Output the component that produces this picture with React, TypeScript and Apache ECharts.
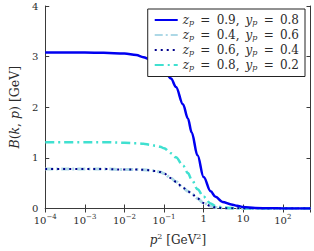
import React, { useEffect, useRef } from "react";
import * as echarts from "echarts";

// p^2 sample points [GeV^2]
const pSq = [1e-4, 1e-3, 3e-3, 1e-2, 0.02, 0.03, 0.045, 0.06, 0.08, 0.1, 0.15, 0.2, 0.3, 0.4, 0.5, 0.7, 1, 1.5, 2, 3, 5, 7, 10, 20, 50, 100, 200, 500];

// B(k,p) [GeV] per parameter set
const bZ09Y08 = [3.08, 3.08, 3.075, 3.06, 3.03, 2.99, 2.94, 2.89, 2.82, 2.74, 2.57, 2.4, 2.06, 1.78, 1.5, 1.05, 0.62, 0.34, 0.23, 0.13, 0.08, 0.055, 0.03, 0.01, 0.004, 0.002, 0.002, 0.002];
const bZ04Y06 = [0.78, 0.78, 0.78, 0.77, 0.77, 0.765, 0.755, 0.74, 0.72, 0.69, 0.6, 0.53, 0.41, 0.34, 0.29, 0.2, 0.11, 0.05, 0.02, 0.008, 0.004, 0.003, 0.002, 0.002, 0.002, 0.002, 0.002, 0.002];
const bZ06Y04 = [0.78, 0.78, 0.78, 0.77, 0.77, 0.765, 0.755, 0.74, 0.72, 0.69, 0.6, 0.53, 0.41, 0.34, 0.29, 0.2, 0.11, 0.05, 0.02, 0.008, 0.004, 0.003, 0.002, 0.002, 0.002, 0.002, 0.002, 0.002];
const bZ08Y02 = [1.31, 1.31, 1.31, 1.3, 1.29, 1.28, 1.26, 1.24, 1.22, 1.19, 1.09, 1.01, 0.85, 0.7, 0.57, 0.38, 0.23, 0.1, 0.05, 0.02, 0.008, 0.004, 0.002, 0.002, 0.002, 0.002, 0.002, 0.002];

const seriesNames = [
  "{i|z}{s|p}\u2009 = \u20090.9,\u2002{i|y}{s|p}\u2009 = \u20090.8",
  "{i|z}{s|p}\u2009 = \u20090.4,\u2002{i|y}{s|p}\u2009 = \u20090.6",
  "{i|z}{s|p}\u2009 = \u20090.6,\u2002{i|y}{s|p}\u2009 = \u20090.4",
  "{i|z}{s|p}\u2009 = \u20090.8,\u2002{i|y}{s|p}\u2009 = \u20090.2",
];

const FONT = "DejaVu Serif";
const TXT = "#2b2b2b";

function pairs(vals: number[]) {
  return pSq.map((p, i) => [p, vals[i]]);
}

function xFmt(v: number) {
  const l = Math.log10(v);
  const e = Math.round(l);
  if (Math.abs(l - e) > 1e-6) return "";
  if (e === 0) return "1";
  if (e === 1) return "10";
  return "10{sup|" + String(e).replace("-", "\u2212") + "}";
}

export default function App() {
  const ref = useRef<HTMLDivElement>(null);
  useEffect(() => {
    if (!ref.current) return;
    const chart = echarts.init(ref.current, undefined, { renderer: "svg" });
    const axisLine = { show: true, lineStyle: { color: "#3a3a3a", width: 1 } };
    const tick = { show: true, inside: true, length: 4, lineStyle: { color: "#3a3a3a", width: 1 } };
    const xBase = {
      type: "log" as const,
      logBase: 10,
      min: 1e-4,
      max: 500,
      splitNumber: 7,
      splitLine: { show: false },
      axisLine,
      axisTick: tick,
    };
    const yBase = {
      type: "value" as const,
      min: 0,
      max: 4,
      interval: 1,
      splitLine: { show: false },
      axisLine,
      axisTick: tick,
    };
    const lineSeries = (name: string, vals: number[], color: string, width: number, type: any, z: number) => ({
      name,
      type: "line" as const,
      data: pairs(vals),
      symbol: "none",
      smooth: 0.35,
      smoothMonotone: "x",
      z,
      lineStyle: { color, width, type },
      itemStyle: { color },
    });
    chart.setOption({
      animation: false,
      backgroundColor: "#fff",
      grid: { left: 34, right: 3.5, top: 6, bottom: 39, containLabel: false },
      xAxis: [
        {
          ...xBase,
          position: "bottom",
          name: "{i|p}{sup|2} [GeV{sup|2}]",
          nameLocation: "middle",
          nameGap: 24,
          nameTextStyle: {
            fontFamily: FONT,
            fontSize: 12,
            color: TXT,
            rich: {
              i: { fontFamily: FONT, fontStyle: "italic", fontSize: 12, color: TXT },
              sup: { fontFamily: FONT, fontSize: 8, color: TXT, padding: [0, 0, 7, 0] },
            },
          },
          axisLabel: {
            show: true,
            margin: 5,
            fontFamily: FONT,
            fontSize: 10,
            color: TXT,
            formatter: xFmt,
            rich: {
              sup: { fontFamily: FONT, fontSize: 7, color: TXT, padding: [0, 0, 6, 0] },
            },
          },
        },
        {
          ...xBase,
          position: "top",
          axisLabel: { show: false },
        },
      ],
      yAxis: [
        {
          ...yBase,
          position: "left",
          name: "{i|B}({i|k}, {i|p}) [GeV]",
          nameLocation: "middle",
          nameGap: 17,
          nameTextStyle: {
            fontFamily: FONT,
            fontSize: 12.5,
            color: TXT,
            rich: {
              i: { fontFamily: FONT, fontStyle: "italic", fontSize: 12.5, color: TXT },
            },
          },
          axisLabel: { show: true, margin: 7, fontFamily: FONT, fontSize: 10, color: TXT },
        },
        {
          ...yBase,
          position: "right",
          axisLabel: { show: false },
        },
      ],
      legend: {
        orient: "vertical",
        right: 9,
        top: 9,
        z: 20,
        padding: [5, 6, 5, 6],
        itemGap: 2.5,
        itemWidth: 23,
        itemHeight: 10,
        borderColor: "#222",
        borderWidth: 1,
        borderRadius: 0,
        backgroundColor: "#fff",
        itemStyle: { opacity: 0 },
        data: seriesNames,
        textStyle: {
          fontFamily: FONT,
          fontSize: 12,
          color: TXT,
          rich: {
            i: { fontFamily: FONT, fontStyle: "italic", fontSize: 12, color: TXT },
            s: { fontFamily: FONT, fontStyle: "italic", fontSize: 8, color: TXT, padding: [5, 0, 0, 0] },
          },
        },
      },
      series: [
        lineSeries(seriesNames[0], bZ09Y08, "#0000f0", 2.5, "solid", 4),
        lineSeries(seriesNames[1], bZ04Y06, "#add8e6", 3, [8, 3, 2, 3], 2),
        lineSeries(seriesNames[2], bZ06Y04, "#00008b", 2, [2, 4], 3),
        lineSeries(seriesNames[3], bZ08Y02, "#40e0d0", 2.5, [9, 4, 2, 4], 2),
      ],
    });
    return () => chart.dispose();
  }, []);
  return (
    <div
      ref={ref}
      style={{ position: "fixed", left: 0, top: 0, width: 314, height: 251 }}
    />
  );
}
